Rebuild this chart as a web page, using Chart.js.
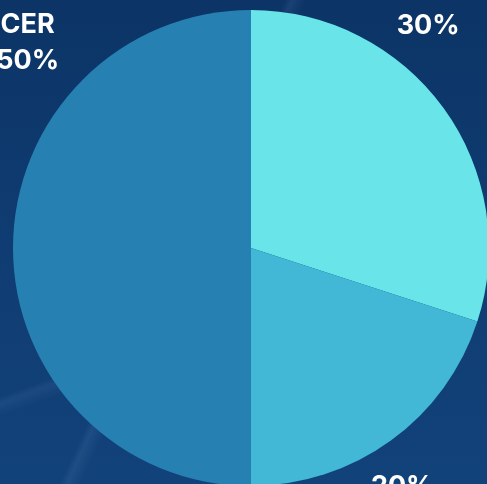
<!DOCTYPE html>
<html>
<head>
<meta charset="utf-8">
<script src="https://cdn.jsdelivr.net/npm/chart.js@4"></script>
<style>
  html, body { margin: 0; padding: 0; width: 487px; height: 484px; overflow: hidden; }
  body {
    background:
      linear-gradient(115deg, rgba(255,255,255,0) 0%, rgba(255,255,255,0) 40%, rgba(120,160,210,0.12) 41%, rgba(255,255,255,0) 43%),
      linear-gradient(160deg, rgba(255,255,255,0) 60%, rgba(120,160,210,0.10) 61%, rgba(255,255,255,0) 63%),
      linear-gradient(180deg, #0c3466 0%, #0f3c72 50%, #12427a 100%);
  }
  #pie { position: absolute; left: 0; top: 0; }
</style>
</head>
<body>
<canvas id="pie" width="502" height="496"></canvas>
<script>
// slice data, clockwise from 12 o'clock
const categories = ['', '', 'CER'];
const shares = [30, 20, 50];
const sliceColors = ['#69e4e8', '#43b7d6', '#2681b2'];

// label placement: angle clockwise from top (deg) and distance from centre (px)
const labelAngle = [38.6, 147.7, 312.5];
const labelDist = [284, 283, 303];

const outsideLabels = {
    id: 'outsideLabels',
    afterDatasetsDraw(chart) {
        const ctx = chart.ctx;
        const arcs = chart.getDatasetMeta(0).data;
        ctx.save();
        ctx.fillStyle = '#ffffff';
        ctx.font = '700 27px Inter, "Open Sans", sans-serif';
        ctx.textAlign = 'center';
        ctx.textBaseline = 'middle';
        arcs.forEach((arc, i) => {
            const a = labelAngle[i] * Math.PI / 180;
            const x = arc.x + labelDist[i] * Math.sin(a);
            const y = arc.y - labelDist[i] * Math.cos(a);
            const lines = [];
            if (categories[i]) lines.push(categories[i]);
            lines.push(shares[i] + '%');
            const lh = 36;
            const y0 = y - (lines.length - 1) * lh / 2;
            lines.forEach((t, k) => ctx.fillText(t, x, y0 + k * lh));
        });
        ctx.restore();
    }
};

new Chart(document.getElementById('pie').getContext('2d'), {
    type: 'pie',
    data: {
        labels: categories,
        datasets: [{
            data: shares,
            backgroundColor: sliceColors,
            borderWidth: 0,
        }],
    },
    options: {
        responsive: false,
        animation: false,
        layout: { padding: 10 },
        plugins: {
            legend: { display: false },
            tooltip: { enabled: false },
        },
    },
    plugins: [outsideLabels],
});
</script>
</body>
</html>
